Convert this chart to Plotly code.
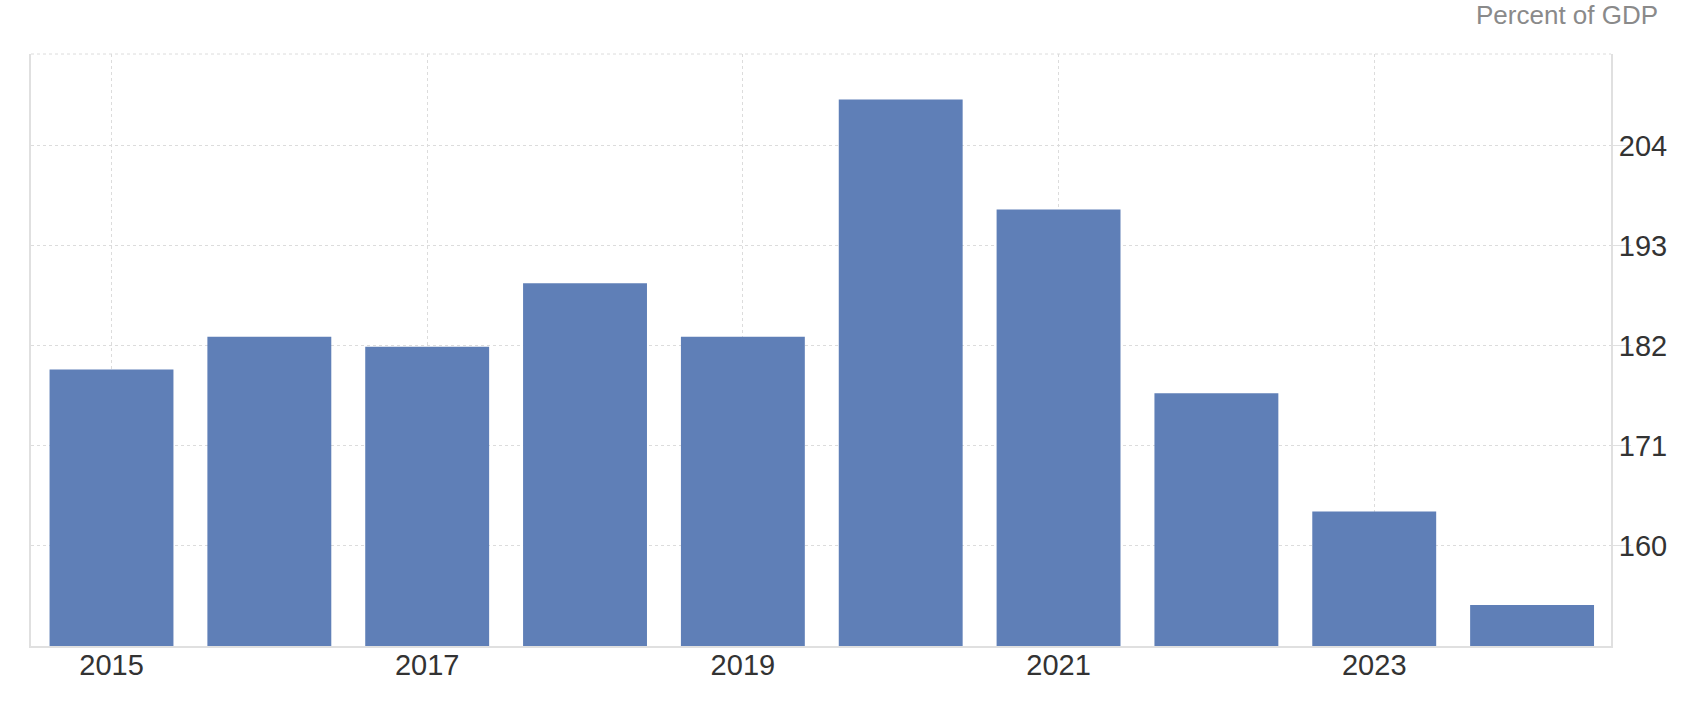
import plotly.graph_objects as go

years = [2015, 2016, 2017, 2018, 2019, 2020, 2021, 2022, 2023, 2024]
values = [179.4, 183.0, 181.9, 188.9, 183.0, 209.1, 197.0, 176.8, 163.8, 153.5]
y_ticks = [160, 171, 182, 193, 204]
x_ticks = [2015, 2017, 2019, 2021, 2023]
unit_label = "Percent of GDP"

BAR = "#5f7fb7"
GRID = "#dcdcdc"
AXIS = "#e0e0e0"
FONT = "Liberation Sans, Arial, Helvetica, sans-serif"

fig = go.Figure(go.Bar(x=years, y=values, marker=dict(color=BAR, line=dict(width=0)),
                       width=0.785))

fig.update_layout(
    width=1682, height=710,
    margin=dict(l=31, r=71, t=54, b=64, autoexpand=False),
    paper_bgcolor="white", plot_bgcolor="white",
    font=dict(family=FONT, color="#333333", size=29),
    showlegend=False,
)
fig.update_xaxes(
    range=[2014.49, 2024.5],
    tickmode="array", tickvals=x_ticks, ticktext=[str(t) for t in x_ticks],
    showgrid=True, gridcolor=GRID, griddash="dot", gridwidth=1,
    showline=True, linecolor=AXIS, linewidth=2,
    ticks="", ticklabelstandoff=-8, tickfont=dict(size=29, color="#333333"),
    zeroline=False, automargin=False,
)
fig.update_yaxes(
    side="right",
    range=[149.0, 214.1],
    tickmode="array", tickvals=y_ticks,
    showgrid=True, gridcolor=GRID, griddash="dot", gridwidth=1,
    showline=True, linecolor=AXIS, linewidth=2, mirror=True,
    ticks="outside", ticklen=18, tickcolor=AXIS, tickwidth=1,
    ticklabelstandoff=-18,
    tickfont=dict(size=29, color="#333333"),
    zeroline=False, automargin=False,
)
fig.add_shape(type="line", xref="paper", yref="paper", x0=0, x1=1, y0=1, y1=1,
              line=dict(color=GRID, width=1, dash="dot"), layer="below")
fig.add_annotation(text=unit_label, xref="paper", yref="paper", x=1.031, y=1.066,
                   xanchor="right", yanchor="middle", showarrow=False,
                   font=dict(size=26, color="#8a8a8a", family=FONT))

# remove the browser's default 8px body margin so the figure fills the window exactly
fig.write_html("out.html", config={"displayModeBar": False},
               post_script="document.body.style.margin='0px';document.body.style.overflow='hidden';")
